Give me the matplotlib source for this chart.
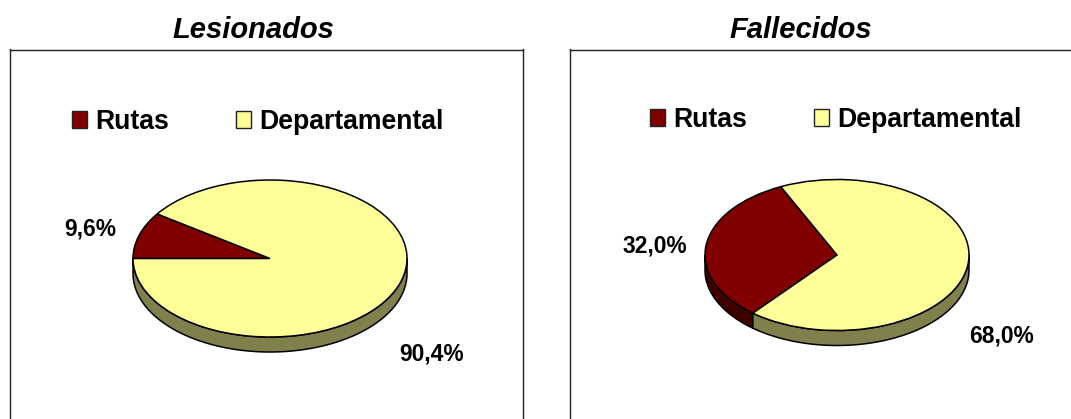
import numpy as np
import matplotlib
matplotlib.use("Agg")
import matplotlib.pyplot as plt

plt.rcParams['font.family'] = ['Liberation Sans', 'DejaVu Sans']

W, H = 1071, 419

categories = ['Rutas', 'Departamental']
lesionados = [9.6, 90.4]
fallecidos = [32.0, 68.0]

top_colors = ['#800000', '#FFFF99']
side_colors = ['#400000', '#80804D']


def px(x, y):
    return x / W, 1 - y / H


def pie_panel(fig, title, values, frame, center, radii, start, title_x, label_pos, legend_xy):
    left, top, right, bottom = frame
    cx, cy = center
    rx, ry = radii
    depth = 15 / ry
    ax = fig.add_axes([left / W, 1 - bottom / H, (right - left) / W, (bottom - top) / H])

    wedges, _ = ax.pie(values, startangle=start, counterclock=True, colors=top_colors,
                       wedgeprops=dict(edgecolor='black', linewidth=1.1, zorder=3))

    # side wall of the disc, only the part that faces down is visible
    a = start
    for v, c in zip(values, side_colors):
        b = a + v * 3.6
        lo, hi = max(a, 180), min(b, 360)
        if hi > lo:
            t = np.radians(np.linspace(lo, hi, 120))
            xs = np.r_[np.cos(t), np.cos(t)[::-1]]
            ys = np.r_[np.sin(t), np.sin(t)[::-1] - depth]
            ax.fill(xs, ys, facecolor=c, edgecolor='black', linewidth=1.1, zorder=2)
        a = b

    # stretch the circle into the flattened disc
    ax.set_aspect('auto')
    ax.set_xlim((left - cx) / rx, (right - cx) / rx)
    ax.set_ylim((cy - bottom) / ry, (cy - top) / ry)
    ax.set_frame_on(True)
    ax.set_xticks([])
    ax.set_yticks([])
    for name, sp in ax.spines.items():
        sp.set_color('#222222')
        sp.set_linewidth(1.0)
    ax.spines['bottom'].set_visible(False)
    if right >= W:
        ax.spines['right'].set_visible(False)

    fig.text(*px(title_x, 29.5), title, ha='center', va='center', fontsize=21,
             fontweight='bold', fontstyle='italic')

    for v, pos in zip(values, label_pos):
        fig.text(*px(*pos), f'{v:.1f}%'.replace('.', ','), ha='center', va='center',
                 fontsize=16.4, fontweight='bold')

    leg = ax.legend(wedges, categories, ncol=2, frameon=False, loc='center left',
                    bbox_to_anchor=px(*legend_xy), bbox_transform=fig.transFigure,
                    prop=dict(size=19.2, weight='bold'), handlelength=0.57, handleheight=0.57,
                    handletextpad=0.3, columnspacing=2.52, borderpad=0, borderaxespad=0)
    for h in leg.legend_handles:
        h.set_linewidth(1.0)
        h.set_edgecolor('#222222')
    return ax


fig = plt.figure(figsize=(W / 100, H / 100), dpi=100, facecolor='white')

pie_panel(fig, 'Lesionados', lesionados, (9.5, 49.5, 522.5, 425), (270, 258.5), (137, 78.5),
          180 - 9.6 * 3.6, 253, [(90, 229), (432, 354)], (72, 122))
pie_panel(fig, 'Fallecidos', fallecidos, (569.5, 49.5, 1080, 425), (837, 255), (132, 75.5),
          115.2, 801, [(655, 246), (1002, 336)], (650, 120))

fig.savefig('out.png', dpi=100)
